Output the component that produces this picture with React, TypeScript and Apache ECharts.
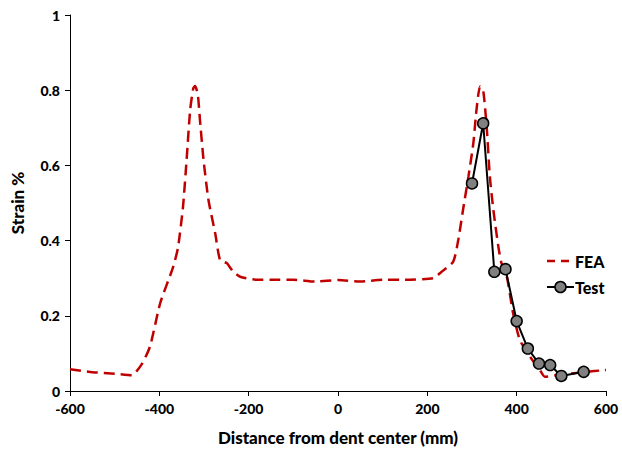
import React, { useEffect, useRef } from "react";
import * as echarts from "echarts";

const feaX = [-600, -550, -500, -462, -440, -421, -398, -369, -358, -347, -339, -331, -324, -320, -314, -309, -301, -290, -275, -264, -249, -235, -219, -182, -150, -100, -50, 0, 50, 100, 150, 213, 232, 258, 269, 281, 292, 303, 310, 318, 325, 333, 340, 348, 359, 366, 378, 392, 407, 430, 452, 463, 490, 550, 600];
const feaY = [0.058, 0.05, 0.046, 0.042, 0.07, 0.118, 0.234, 0.33, 0.383, 0.49, 0.614, 0.747, 0.805, 0.811, 0.79, 0.72, 0.614, 0.508, 0.42, 0.348, 0.34, 0.318, 0.304, 0.296, 0.296, 0.296, 0.291, 0.295, 0.291, 0.296, 0.296, 0.3, 0.317, 0.344, 0.4, 0.49, 0.57, 0.659, 0.747, 0.81, 0.8, 0.7, 0.57, 0.48, 0.384, 0.34, 0.304, 0.207, 0.136, 0.091, 0.056, 0.038, 0.042, 0.05, 0.056];

const testX = [300, 325, 350, 375, 400, 425, 450, 475, 500, 550];
const testY = [0.552, 0.712, 0.317, 0.324, 0.186, 0.113, 0.073, 0.069, 0.04, 0.051];

const xTicks = { min: -600, max: 600, interval: 200 };
const yTicks = { min: 0, max: 1, interval: 0.2 };

const FONT = "Lato";
const RED = "#C00000";

export default function App() {
  const ref = useRef<HTMLDivElement>(null);
  useEffect(() => {
    if (!ref.current) return;
    const chart = echarts.init(ref.current, undefined, { renderer: "svg" });
    const axisLabel = { color: "#000", fontFamily: FONT, fontWeight: 900, fontSize: 14 };
    const nameStyle = { color: "#000", fontFamily: FONT, fontWeight: 900, fontSize: 17 };
    const legendText = { fill: "#000", fontFamily: FONT, fontWeight: 900, fontSize: 16, verticalAlign: "middle" };
    chart.setOption({
      animation: false,
      backgroundColor: "#fff",
      grid: { left: 70, right: 16, top: 15, bottom: 60 },
      xAxis: {
        type: "value",
        min: xTicks.min,
        max: xTicks.max,
        interval: xTicks.interval,
        name: "Distance from dent center (mm)",
        nameLocation: "middle",
        nameGap: 38,
        nameTextStyle: nameStyle,
        axisLine: { onZero: false, lineStyle: { color: "#000", width: 1 } },
        axisTick: { inside: false, length: 5, lineStyle: { color: "#000" } },
        axisLabel: { ...axisLabel, margin: 10 },
        splitLine: { show: false },
      },
      yAxis: {
        type: "value",
        min: yTicks.min,
        max: yTicks.max,
        interval: yTicks.interval,
        name: "Strain %",
        nameLocation: "middle",
        nameGap: 44,
        nameTextStyle: nameStyle,
        axisLine: { show: true, onZero: false, lineStyle: { color: "#000", width: 1 } },
        axisTick: { show: true, inside: false, length: 5, lineStyle: { color: "#000" } },
        axisLabel: { ...axisLabel, margin: 10, formatter: (v: number) => String(Math.round(v * 10) / 10) },
        splitLine: { show: false },
      },
      graphic: [
        { type: "line", shape: { x1: 547, y1: 261, x2: 574, y2: 261 }, style: { stroke: RED, lineWidth: 2.5, lineDash: [8, 6] } },
        { type: "text", x: 575, y: 261, style: { text: "FEA", ...legendText } },
        { type: "line", shape: { x1: 547, y1: 287, x2: 574, y2: 287 }, style: { stroke: "#000", lineWidth: 2 } },
        { type: "circle", shape: { cx: 560.5, cy: 287, r: 5.5 }, style: { fill: "#808080", stroke: "#000", lineWidth: 1.5 } },
        { type: "text", x: 575, y: 287, style: { text: "Test", ...legendText } },
      ],
      series: [
        {
          name: "FEA",
          type: "line",
          data: feaX.map((x, i) => [x, feaY[i]]),
          symbol: "none",
          smooth: 0.2,
          lineStyle: { color: RED, width: 2.5, type: [11, 6] },
          itemStyle: { color: RED },
        },
        {
          name: "Test",
          type: "line",
          data: testX.map((x, i) => [x, testY[i]]),
          symbol: "circle",
          symbolSize: 11,
          lineStyle: { color: "#000", width: 2 },
          itemStyle: { color: "#808080", borderColor: "#000", borderWidth: 1.5 },
        },
      ],
    });
    return () => chart.dispose();
  }, []);
  return <div ref={ref} style={{ width: 622, height: 451, position: "absolute", left: 0, top: 0 }} />;
}
